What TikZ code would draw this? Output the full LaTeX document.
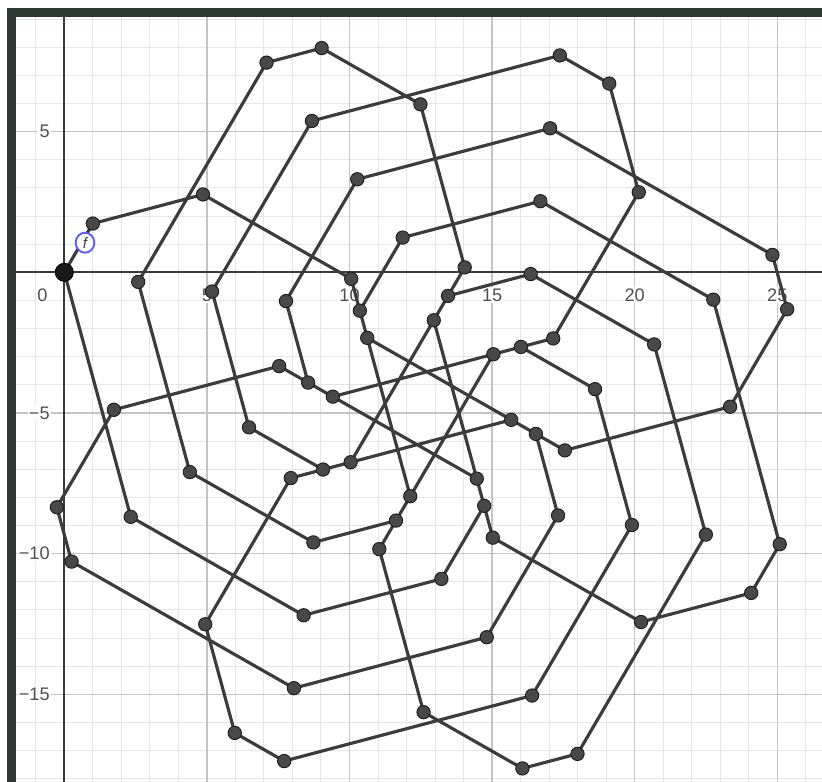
\documentclass[tikz,border=0pt]{standalone}
\usepackage{fontspec}
\setmainfont{Liberation Sans}
\usetikzlibrary{shapes.geometric}
\definecolor{framec}{HTML}{2C3A33}
\definecolor{minorc}{HTML}{E6E6E6}
\definecolor{majorc}{HTML}{C4C4C4}
\definecolor{axisc}{HTML}{3A3A3A}
\definecolor{segc}{HTML}{3C3C3C}
\definecolor{dotfill}{HTML}{484848}
\definecolor{dotline}{HTML}{1E1E1E}
\definecolor{labc}{HTML}{505050}
\definecolor{fblue}{HTML}{5A5AFF}
\tikzset{
  minorgrid/.style={draw=minorc, line width=0.85pt},
  majorgrid/.style={draw=majorc, line width=1.2pt},
  axisline/.style={draw=axisc, line width=1.6pt},
  seg/.style={draw=segc, line width=2.7pt, line join=round, line cap=round},
  ptdot/.style={circle, fill=dotfill, draw=dotline, line width=0.8pt, minimum size=0.40cm, inner sep=0pt},
  origdot/.style={circle, fill=black!90, draw=black, line width=0.8pt, minimum size=0.54cm, inner sep=0pt},
  axlab/.style={text=labc, fill=white, inner sep=1pt, font=\fontsize{15.5}{18}\selectfont},
}
\begin{document}
\begin{tikzpicture}[x=0.8556cm, y=0.8439cm]
\useasboundingbox (-2.2546,-18.119) rectangle (26.567,9.680);
\fill[white] (-2.2546,-18.119) rectangle (26.567,9.680);
% grid
\foreach \gx in {-1,...,26} \draw[minorgrid] (\gx,-18.119) -- (\gx,9.065);
\foreach \gy in {-18,...,9} \draw[minorgrid] (-1.694,\gy) -- (26.567,\gy);
\foreach \gx in {5,10,15,20,25} \draw[majorgrid] (\gx,-18.119) -- (\gx,9.065);
\foreach \gy in {-15,-10,-5,5} \draw[majorgrid] (-1.694,\gy) -- (26.567,\gy);
% axes
\draw[axisline] (-1.694,0) -- (26.567,0);
\draw[axisline] (0,-18.119) -- (0,9.065);
% axis labels
\node[axlab] (lx0) at (-0.77,-0.807) {0};
\node[axlab] (lx5) at (5,-0.807) {5};
\node[axlab] (lx10) at (10,-0.807) {10};
\node[axlab] (lx15) at (15,-0.807) {15};
\node[axlab] (lx20) at (20,-0.807) {20};
\node[axlab] (lx25) at (25,-0.807) {25};
\node[axlab, anchor=east] (ly5) at (-0.466,5) {5};
\node[axlab, anchor=east] (lym5) at (-0.466,-5) {−5};
\node[axlab, anchor=east] (lym10) at (-0.466,-10) {−10};
\node[axlab, anchor=east] (lym15) at (-0.466,-15) {−15};
% vertices of the closed spiral: lengths 2,4,6,8,1,3,5,7,9 ; turn -45 deg
\coordinate (p0) at (0,0);
\gdef\cx{0}\gdef\cy{0}
\foreach \i in {1,...,72}{
  \pgfmathsetmacro\len{mod(2*\i-1,9)+1}
  \pgfmathsetmacro\ang{60-45*(\i-1)}
  \pgfmathsetmacro\nx{\cx+\len*cos(\ang)}
  \pgfmathsetmacro\ny{\cy+\len*sin(\ang)}
  \xdef\cx{\nx}\xdef\cy{\ny}
  \coordinate (p\i) at (\nx,\ny);
}
% polygon
\draw[seg] (p0) \foreach \i in {1,...,71}{ -- (p\i) } -- cycle;
% label f
\node[ellipse, draw=fblue, line width=1.6pt, fill=white, minimum width=0.56cm, minimum height=0.6cm, inner sep=0pt, text=segc, font=\fontsize{13}{14}\selectfont\itshape] (flab) at (0.726,1.052) {f};
% points
\foreach \i in {1,...,71} \node[ptdot] (d\i) at (p\i) {};
\node[origdot] (d0) at (p0) {};
% frame
\fill[framec] (-1.999,9.065) rectangle (26.567,9.385);
\fill[framec] (-1.999,-18.119) rectangle (-1.694,9.385);
\end{tikzpicture}
\end{document}
